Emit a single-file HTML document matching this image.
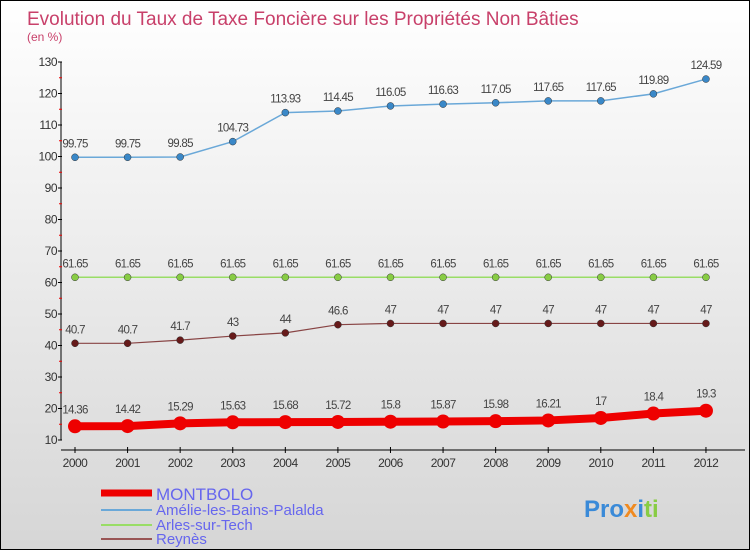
<!DOCTYPE html>
<html><head><meta charset="utf-8"><style>
html,body{margin:0;padding:0}
body{width:750px;height:550px;overflow:hidden;font-family:"Liberation Sans",sans-serif}
#wrap{position:relative;width:748px;height:548px;border:1px solid #000;background:linear-gradient(#ffffff,#d6d6d6)}
</style></head><body>
<div id="wrap">
<svg id="chart" width="748" height="548" style="position:absolute;left:0;top:0"></svg>
</div>
<script>
const years=["2000","2001","2002","2003","2004","2005","2006","2007","2008","2009","2010","2011","2012"];
const montbolo=[14.36,14.42,15.29,15.63,15.68,15.72,15.8,15.87,15.98,16.21,17,18.4,19.3];
const amelie=[99.75,99.75,99.85,104.73,113.93,114.45,116.05,116.63,117.05,117.65,117.65,119.89,124.59];
const arles=[61.65,61.65,61.65,61.65,61.65,61.65,61.65,61.65,61.65,61.65,61.65,61.65,61.65];
const reynes=[40.7,40.7,41.7,43,44,46.6,47,47,47,47,47,47,47];
const yTicks=[10,20,30,40,50,60,70,80,90,100,110,120,130];
const seriesNames=["MONTBOLO","Amélie-les-Bains-Palalda","Arles-sur-Tech","Reynès"];

const NS="http://www.w3.org/2000/svg";
const svg=document.getElementById('chart');
function X(i){return 74+i*52.58;}
function Y(v){return 439-(v-10)*(378/120);}
function mk(t,a,txt){const e=document.createElementNS(NS,t);for(const k in a)e.setAttribute(k,a[k]);if(txt!==undefined)e.textContent=txt;svg.appendChild(e);return e;}

let e;
e=mk('text',{x:26,y:24,'font-size':19,fill:'#c8406a'},'Evolution du Taux de Taxe Foncière sur les Propriétés Non Bâties');


e=mk('text',{x:26,y:40,'font-size':12,fill:'#c8406a'},'(en %)');



e=mk('line',{x1:60,y1:Y(130),x2:60,y2:Y(10),stroke:'#000'});


yTicks.forEach((t,i)=>{
  mk('line',{x1:57,y1:Y(t),x2:61,y2:Y(t),stroke:'#000'});
  if(i<yTicks.length-1)mk('line',{x1:58,y1:Y(t+5),x2:61,y2:Y(t+5),stroke:'#e00'});
  e=mk('text',{x:56,y:Y(t)+4,'font-size':12,fill:'#333','text-anchor':'end','letter-spacing':'-0.5'},String(t));
  
  
});
e=mk('line',{x1:60,y1:449,x2:744,y2:449,stroke:'#000'});


years.forEach((y,i)=>{
  mk('line',{x1:X(i),y1:446,x2:X(i),y2:452,stroke:'#000'});
  e=mk('text',{x:X(i),y:466,'font-size':12,fill:'#333','text-anchor':'middle','letter-spacing':'-0.5'},y);
  
  
});

function series(data,color,dot,w,r,name,dy){
  const pts=data.map((v,i)=>X(i)+','+Y(v)).join(' ');
  e=mk('polyline',{points:pts,fill:'none',stroke:color,'stroke-width':w});
  
  
  data.forEach((v,i)=>{
    e=mk('circle',{cx:X(i),cy:Y(v),r:r,fill:dot,stroke:w>3?'none':'#333','stroke-width':0.5});
    
    
    e=mk('text',{x:X(i),y:Y(v)-dy,'font-size':11.5,fill:'#444','text-anchor':'middle','letter-spacing':'-0.7'},String(v));
    
    
  });
}
series(amelie,'#6aa8d8','#3a88c8',1.5,3.5,'amelie',10);
series(arles,'#99dd66','#88cc44',1.5,3.5,'arles',10);
series(reynes,'#884444','#661a1a',1.2,3.5,'reynes',10);
series(montbolo,'#ee0000','#ee0000',8,7,'montbolo',13);

const lg=[['#ee0000',7],['#6aa8d8',2],['#99dd66',2],['#995555',2]];
lg.forEach((l,i)=>{
  const yy=[492,509,524,538][i];
  e=mk('line',{x1:100,y1:yy,x2:151,y2:yy,stroke:l[0],'stroke-width':l[1]});
  
  
  e=mk('text',{x:155,y:yy+(i==0?7:5),'font-size':i==0?17:15,fill:'#6666ee'},seriesNames[i]);
  
  
});
e=mk('text',{x:583,y:516,'font-size':24,'font-weight':'bold',fill:'#3a8ad8'});


[['Pro','#3a8ad8'],['x','#f08a20'],['i','#3a8ad8'],['ti','#88cc44']].forEach(p=>{const s=document.createElementNS(NS,'tspan');s.setAttribute('fill',p[1]);s.textContent=p[0];e.appendChild(s);});
</script>
</body></html>
